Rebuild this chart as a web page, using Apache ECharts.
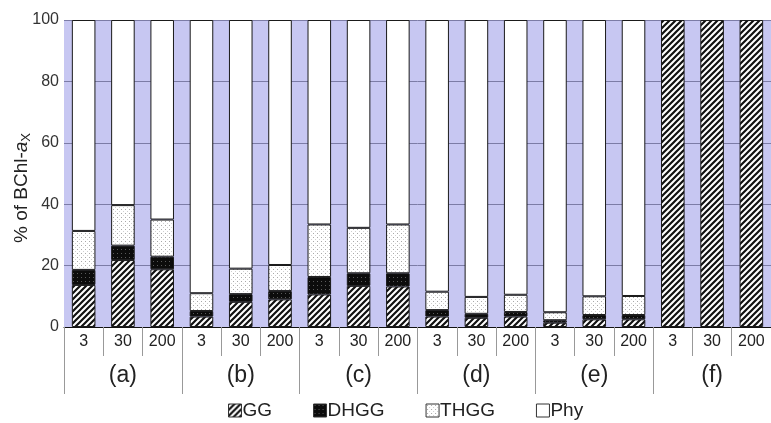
<!DOCTYPE html>
<html>
<head>
<meta charset="utf-8">
<script src="https://cdn.jsdelivr.net/npm/echarts@6/dist/echarts.min.js"></script>
<style>
  html, body { margin: 0; padding: 0; background: #ffffff; }
  #chart { width: 771px; height: 423px; }
</style>
</head>
<body>
<div id="chart"></div>
<script>
// Sample sizes within each treatment group, and the treatment groups
const sizes = ['3', '30', '200'];
const groups = ['(a)', '(b)', '(c)', '(d)', '(e)', '(f)'];
const yTicks = [0, 20, 40, 60, 80, 100];

// Share of each pigment component (% of BChl-a), one entry per bar, groups (a)..(f)
const gg   = [13.7, 21.8, 18.8,  3.4,  8.2,  9.0, 10.6, 13.4, 13.2,  3.4,  3.0,  3.4,  1.4,  2.5,  2.5, 100, 100, 100];
const dhgg = [ 4.9,  4.7,  4.1,  1.8,  2.5,  2.7,  5.7,  4.1,  4.3,  2.1,  1.3,  1.5,  0.8,  1.4,  1.4, null, null, null];
const thgg = [12.7, 13.2, 12.1,  5.8,  8.3,  8.5, 17.1, 14.8, 15.9,  6.0,  5.5,  5.6,  2.6,  6.1,  6.2, null, null, null];
const phy  = [68.7, 60.3, 65.0, 89.0, 81.0, 79.8, 66.6, 67.7, 66.6, 88.5, 90.2, 89.5, 95.2, 90.0, 89.9, null, null, null];

const barLabels = [];
groups.forEach(() => sizes.forEach(s => barLabels.push(s)));

// Fill patterns for the stacked segments
function makePattern(size, draw) {
  const c = document.createElement('canvas');
  c.width = size; c.height = size;
  const ctx = c.getContext('2d');
  draw(ctx, size);
  return { image: c, repeat: 'repeat' };
}
const hatch = makePattern(6, (ctx, s) => {
  ctx.fillStyle = '#ffffff'; ctx.fillRect(0, 0, s, s);
  ctx.strokeStyle = '#111111'; ctx.lineWidth = 2.2;
  ctx.beginPath();
  ctx.moveTo(-1, s + 1); ctx.lineTo(s + 1, -1);
  ctx.moveTo(-1, 1); ctx.lineTo(1, -1);
  ctx.moveTo(s - 1, s + 1); ctx.lineTo(s + 1, s - 1);
  ctx.stroke();
});
const darkDots = makePattern(4, (ctx, s) => {
  ctx.fillStyle = '#0c0c0c'; ctx.fillRect(0, 0, s, s);
  ctx.fillStyle = '#5a5a5a'; ctx.fillRect(1, 1, 1, 1);
});
const lightDots = makePattern(4, (ctx, s) => {
  ctx.fillStyle = '#ffffff'; ctx.fillRect(0, 0, s, s);
  ctx.fillStyle = '#a8a8a8'; ctx.fillRect(1, 1, 1, 1);
  ctx.fillStyle = '#d0d0d0'; ctx.fillRect(3, 3, 1, 1);
});

const FONT = 'Liberation Sans, Arial, sans-serif';
const seg = (name, data, fill) => ({
  name, type: 'bar', stack: 'total', data, barWidth: '60%',
  itemStyle: { color: fill, borderColor: '#1a1a1a', borderWidth: 1 },
  emphasis: { disabled: true }
});

const chart = echarts.init(document.getElementById('chart'), null, { renderer: 'canvas' });
chart.setOption({
  animation: false,
  backgroundColor: '#ffffff',
  grid: {
    left: 64, top: 20, width: 711, height: 307,
    show: true, backgroundColor: '#c7c7f2', borderWidth: 0
  },
  legend: {
    top: 401, left: 228, padding: 0,
    itemWidth: 13, itemHeight: 13, itemGap: 41,
    icon: 'rect',
    textStyle: { fontFamily: FONT, fontSize: 19, color: '#222', padding: [0, 0, 0, -4] },
    data: ['GG', 'DHGG', 'THGG', 'Phy'],
    itemStyle: { borderColor: '#333', borderWidth: 1 }
  },
  graphic: [{
    type: 'text', x: 22, y: 188,
    rotation: Math.PI / 2,
    style: {
      x: 0, y: 0,
      text: '% of BChl-{i|a}{sub|X}',
      font: '19px ' + FONT, fill: '#222',
      align: 'center', verticalAlign: 'middle',
      rich: {
        i: { fontFamily: FONT, fontSize: 19, fontStyle: 'italic', fill: '#222' },
        sub: { fontFamily: FONT, fontSize: 13, fill: '#222', padding: [9, 0, 0, 0] }
      }
    }
  }],
  xAxis: [
    {
      type: 'category', data: barLabels, position: 'bottom',
      axisLine: { show: true, lineStyle: { color: '#111', width: 1 } },
      axisTick: { show: true, length: 29, interval: 0, lineStyle: { color: '#999' } },
      axisLabel: { interval: 0, margin: 7, fontFamily: FONT, fontSize: 16, color: '#222' }
    },
    {
      type: 'category', data: groups, position: 'bottom', gridIndex: 0,
      axisLine: { show: false },
      axisTick: { show: true, length: 67, interval: 0, lineStyle: { color: '#999' } },
      axisLabel: { interval: 0, margin: 37, fontFamily: FONT, fontSize: 23, color: '#222' }
    }
  ],
  yAxis: {
    type: 'value', min: 0, max: 100, interval: 20,
    axisLine: { show: false },
    axisTick: { show: false },
    axisLabel: { fontFamily: FONT, fontSize: 16, color: '#333', margin: 5 },
    splitLine: { show: true, lineStyle: { color: '#7c7ca6', width: 1 } }
  },
  series: [
    seg('GG', gg, hatch),
    seg('DHGG', dhgg, darkDots),
    seg('THGG', thgg, lightDots),
    seg('Phy', phy, '#ffffff')
  ]
});
</script>
</body>
</html>
